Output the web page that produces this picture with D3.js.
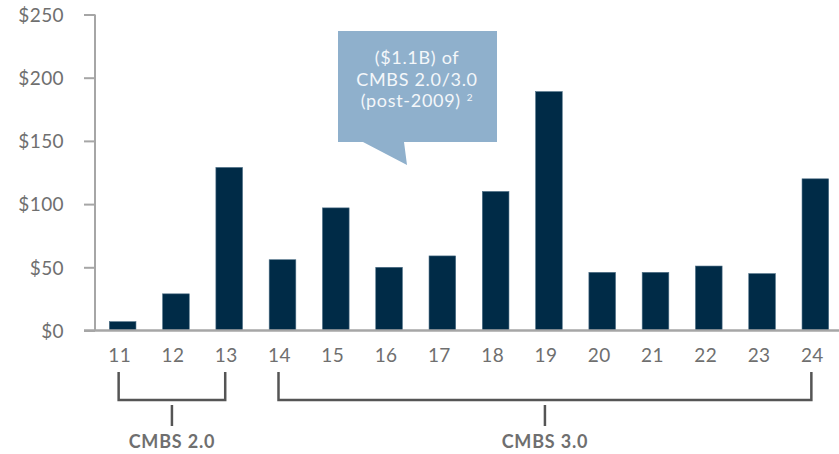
<!DOCTYPE html>
<head>
  <meta charset="utf-8">
  <script src="https://d3js.org/d3.v7.min.js"></script>
  <style>
    body { margin: 0; background: #fff; }
    text { font-family: "Lato", "Open Sans", sans-serif; }
  </style>
</head>
<body>
  <svg id="chart"></svg>
  <script>
    const svg_width = 839;
    const svg_height = 454;

    // data ($M by vintage year)
    const years = ["11", "12", "13", "14", "15", "16", "17", "18", "19", "20", "21", "22", "23", "24"];
    const amounts = [7, 29, 129, 56, 97, 50, 59, 110, 189, 46, 46, 51, 45, 120];
    const yTicks = [0, 50, 100, 150, 200, 250];
    const groups = [
      { label: "CMBS 2.0", first: "11", last: "13" },
      { label: "CMBS 3.0", first: "14", last: "24" }
    ];
    const calloutLines = ["($1.1B) of", "CMBS 2.0/3.0", "(post-2009)"];

    const axisColor = "#a6a6a6";
    const textColor = "#6f6f6f";
    const barColor = "#002b47";

    const svg = d3.select("#chart")
      .attr("width", svg_width)
      .attr("height", svg_height);

    const x = d3.scaleBand()
      .domain(years)
      .range([96, 842])
      .paddingInner(0.5)
      .paddingOuter(0.25);

    const y = d3.scaleLinear()
      .domain([0, 250])
      .range([330.5, 14.5]);

    // y axis
    const yAxis = d3.axisLeft(y)
      .tickValues(yTicks)
      .tickSize(11)
      .tickPadding(20)
      .tickFormat(d => "$" + d);

    const gy = svg.append("g")
      .attr("transform", "translate(95,0)")
      .call(yAxis);
    gy.select(".domain").attr("stroke", axisColor).attr("stroke-width", 2).attr("d", "M0," + y(250) + "V" + y(0));
    gy.selectAll(".tick line").attr("stroke", axisColor).attr("stroke-width", 2);
    gy.selectAll(".tick text")
      .attr("fill", textColor)
      .style("font-size", "19px")
      .style("letter-spacing", "0.4px")
      .attr("dy", "0.36em");

    // bars
    svg.selectAll(".bar")
      .data(years)
      .enter().append("rect")
      .attr("class", "bar")
      .attr("x", d => x(d))
      .attr("width", x.bandwidth())
      .attr("y", (d, i) => y(amounts[i]))
      .attr("height", (d, i) => y(0) - y(amounts[i]))
      .attr("fill", barColor)
      .attr("stroke", "#4d6f86")
      .attr("stroke-width", 0.6);

    // x axis line
    svg.append("line")
      .attr("x1", 84).attr("x2", svg_width)
      .attr("y1", y(0)).attr("y2", y(0))
      .attr("stroke", axisColor)
      .attr("stroke-width", 2.5);

    // x labels
    svg.selectAll(".xlabel")
      .data(years)
      .enter().append("text")
      .attr("class", "xlabel")
      .attr("x", d => x(d) + x.bandwidth() / 2 - 3)
      .attr("y", 362)
      .attr("text-anchor", "middle")
      .attr("fill", textColor)
      .style("font-size", "19px")
      .style("letter-spacing", "0.4px")
      .text(d => d);

    // brackets
    const cx = d => x(d) + x.bandwidth() / 2 - 4;
    const bracket = svg.selectAll(".bracket")
      .data(groups)
      .enter().append("g")
      .attr("class", "bracket");

    bracket.append("path")
      .attr("d", d => "M" + cx(d.first) + ",372V400H" + cx(d.last) + "V372")
      .attr("fill", "none")
      .attr("stroke", "#555")
      .attr("stroke-width", 2.5);

    bracket.append("line")
      .attr("x1", d => (cx(d.first) + cx(d.last)) / 2)
      .attr("x2", d => (cx(d.first) + cx(d.last)) / 2)
      .attr("y1", 405).attr("y2", 426)
      .attr("stroke", "#555")
      .attr("stroke-width", 2.5);

    bracket.append("text")
      .attr("x", d => (cx(d.first) + cx(d.last)) / 2)
      .attr("y", 448)
      .attr("text-anchor", "middle")
      .attr("fill", textColor)
      .style("font-size", "18px")
      .style("letter-spacing", "0.8px")
      .style("font-weight", "bold")
      .text(d => d.label);

    // callout
    const callout = svg.append("g");
    callout.append("path")
      .attr("d", "M338,31H497V142H404L407,165L363,142H338Z")
      .attr("fill", "#8fb0cc");

    const ct = callout.append("text")
      .attr("text-anchor", "middle")
      .attr("fill", "#f4f7fa")
      .style("font-size", "18px")
      .style("letter-spacing", "0.7px");
    calloutLines.forEach((line, i) => {
      ct.append("tspan")
        .attr("x", 417)
        .attr("y", 64 + i * 21.5)
        .text(line);
      if (i === calloutLines.length - 1) {
        ct.append("tspan")
          .attr("dx", 6)
          .attr("dy", -6)
          .style("font-size", "10px")
          .text("2");
      }
    });
  </script>
</body>
